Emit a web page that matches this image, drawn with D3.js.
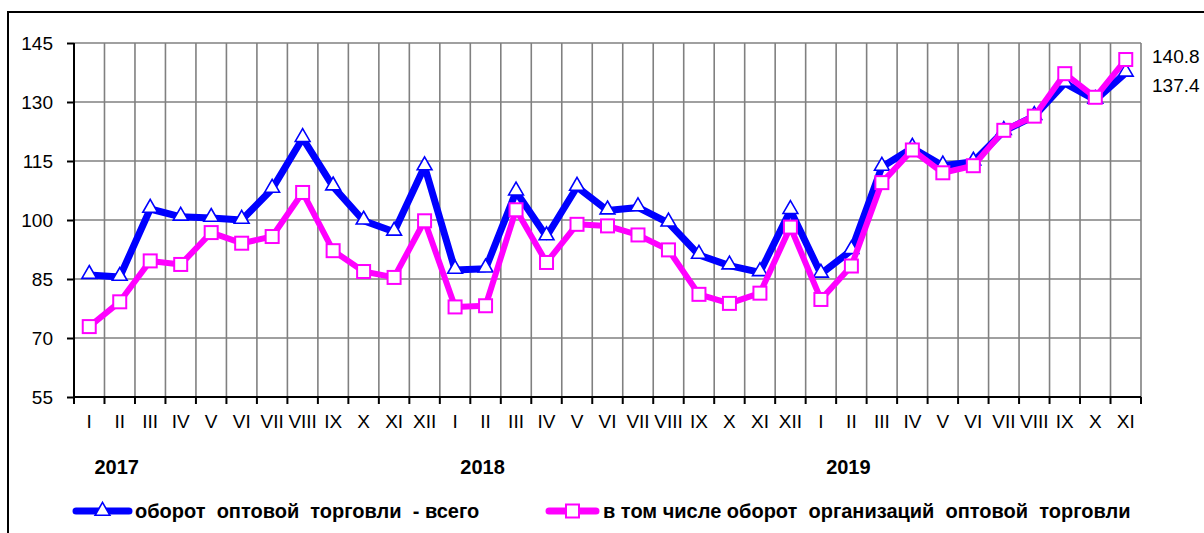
<!DOCTYPE html>
<html>
<head>
<meta charset="utf-8">
<script src="https://cdn.jsdelivr.net/npm/d3@7"></script>
<style>
  body { margin: 0; background: #fff; }
  svg { display: block; font-family: "Liberation Sans", Arial, sans-serif; }
  .grid line { stroke: #808080; stroke-width: 1.6; }
  .axis path, .axis line { stroke: #000; stroke-width: 2; }
  .axis text { font-size: 19px; fill: #000; }
</style>
</head>
<body>
<svg id="chart" width="1204" height="533"></svg>
<script>
const months = ['I','II','III','IV','V','VI','VII','VIII','IX','X','XI','XII',
  'I','II','III','IV','V','VI','VII','VIII','IX','X','XI','XII',
  'I','II','III','IV','V','VI','VII','VIII','IX','X','XI']
const years = ['2017', '2018', '2019']
const yearStart = [0, 12, 24]
const yTicks = [55, 70, 85, 100, 115, 130, 145]

// оборот оптовой торговли - всего
const totalSeries = [86, 85.5, 102.8, 100.8, 100.5, 100, 107.9, 120.8, 108.5, 99.8, 97, 113.6,
  87.3, 87.6, 107.2, 95.8, 108.4, 102.4, 103.2, 99.3, 91.1, 88.4, 86.7, 102.5,
  86.3, 92.3, 113.5, 118.3, 113.8, 114.8, 122.6, 126.4, 134.8, 130.5, 137.4]
// в том числе оборот организаций оптовой торговли
const orgSeries = [72.9, 79.2, 89.6, 88.7, 96.8, 94.1, 95.8, 107, 92.2, 86.9, 85.4, 99.8,
  77.9, 78.2, 102.6, 89.2, 98.9, 98.5, 96.2, 92.4, 81.1, 78.8, 81.4, 98.2,
  79.8, 88.3, 109.5, 117.8, 112, 113.8, 122.8, 126.4, 137.2, 131.2, 140.8]
const legendNames = ['оборот  оптовой  торговли  - всего', 'в том числе оборот  организаций  оптовой  торговли']

const $svg = d3.select('#chart')
const MARGIN = { top: 43, right: 63, bottom: 136, left: 74 }
const width = 1204, height = 533
const boundedWidth = width - MARGIN.left - MARGIN.right
const boundedHeight = height - MARGIN.top - MARGIN.bottom

const xScale = d3.scaleBand()
  .domain(d3.range(months.length))
  .range([0, boundedWidth])
  .padding(0)
const yScale = d3.scaleLinear()
  .domain([55, 145])
  .range([boundedHeight, 0])
const xc = i => xScale(i) + xScale.bandwidth() / 2

// frame
$svg.append('rect')
  .attr('x', 8).attr('y', 12)
  .attr('width', 1300).attr('height', 600)
  .attr('fill', 'none').attr('stroke', '#000').attr('stroke-width', 2)

const $gVis = $svg.append('g')
  .attr('transform', `translate(${MARGIN.left}, ${MARGIN.top})`)

// grid
const $grid = $gVis.append('g').attr('class', 'grid')
$grid.selectAll('.h').data(yTicks.slice(1))
  .join('line')
    .attr('x1', 0).attr('x2', boundedWidth)
    .attr('y1', d => yScale(d)).attr('y2', d => yScale(d))
$grid.selectAll('.v').data(d3.range(1, months.length + 1))
  .join('line')
    .attr('x1', d => d * xScale.bandwidth()).attr('x2', d => d * xScale.bandwidth())
    .attr('y1', 0).attr('y2', boundedHeight)

// axes
const yAxis = $gVis.append('g').attr('class', 'axis')
  .call(d3.axisLeft(yScale).tickValues(yTicks).tickSize(7).tickPadding(14))
yAxis.select('.domain').attr('d', `M0,${boundedHeight}V0`)

const xAxis = $gVis.append('g').attr('class', 'axis')
  .attr('transform', `translate(0, ${boundedHeight})`)
  .call(d3.axisBottom(xScale).tickFormat(i => months[i]).tickSize(0).tickPadding(18))
xAxis.select('.domain').attr('d', `M0,0H${boundedWidth}`)
xAxis.selectAll('.bnd').data(d3.range(0, months.length + 1))
  .join('line')
    .attr('class', 'bnd')
    .attr('x1', d => d * xScale.bandwidth()).attr('x2', d => d * xScale.bandwidth())
    .attr('y1', 0).attr('y2', 7)
    .attr('stroke', '#000').attr('stroke-width', 2)

// year labels
$gVis.selectAll('.year').data(years)
  .join('text')
    .attr('class', 'year')
    .attr('x', (d, i) => xc(yearStart[i] + 1) - 3)
    .attr('y', boundedHeight + 77)
    .attr('text-anchor', 'middle')
    .attr('font-size', 20).attr('font-weight', 'bold')
    .text(d => d)

const lineGen = d3.line()
  .x((d, i) => xc(i))
  .y(d => yScale(d))

const triangle = d3.symbol().type(d3.symbolTriangle).size(95)

function drawSeries(values, color, lw, marker){
  $gVis.append('path')
    .datum(values)
    .attr('d', lineGen)
    .attr('fill', 'none')
    .attr('stroke', color)
    .attr('stroke-width', lw)
    .attr('stroke-linejoin', 'round')
  const $m = $gVis.append('g')
  if (marker === 'tri') {
    $m.selectAll('path').data(values)
      .join('path')
        .attr('d', triangle)
        .attr('transform', (d, i) => `translate(${xc(i)}, ${yScale(d) - 1})`)
        .attr('fill', '#fff').attr('stroke', color).attr('stroke-width', 1.6)
  } else {
    $m.selectAll('rect').data(values)
      .join('rect')
        .attr('x', (d, i) => xc(i) - 6.5).attr('y', d => yScale(d) - 6.5)
        .attr('width', 13).attr('height', 13)
        .attr('fill', '#fff').attr('stroke', color).attr('stroke-width', 2)
  }
}

drawSeries(totalSeries, '#0000ff', 7, 'tri')
drawSeries(orgSeries, '#ff00ff', 6, 'sq')

// end value labels
const last = months.length - 1
$svg.append('text')
  .attr('x', 1152).attr('y', 63)
  .attr('font-size', 19).text(orgSeries[last].toFixed(1))
$svg.append('text')
  .attr('x', 1152).attr('y', 92)
  .attr('font-size', 19).text(totalSeries[last].toFixed(1))

// legend
const legendY = 511
const $legend = $svg.append('g')
const items = [
  { name: legendNames[0], color: '#0000ff', x1: 76, x2: 129, tx: 135, marker: 'tri' },
  { name: legendNames[1], color: '#ff00ff', x1: 549, x2: 596, tx: 603, marker: 'sq' }
]
items.forEach(it => {
  $legend.append('line')
    .attr('x1', it.x1).attr('x2', it.x2)
    .attr('y1', legendY).attr('y2', legendY)
    .attr('stroke', it.color).attr('stroke-width', 7).attr('stroke-linecap', 'round')
  const mx = (it.x1 + it.x2) / 2
  if (it.marker === 'tri') {
    $legend.append('path').attr('d', triangle)
      .attr('transform', `translate(${mx}, ${legendY})`)
      .attr('fill', '#fff').attr('stroke', it.color).attr('stroke-width', 1.6)
  } else {
    $legend.append('rect')
      .attr('x', mx - 6.5).attr('y', legendY - 6.5).attr('width', 13).attr('height', 13)
      .attr('fill', '#fff').attr('stroke', it.color).attr('stroke-width', 2)
  }
  $legend.append('text')
    .attr('x', it.tx).attr('y', legendY + 7)
    .attr('font-size', 20).attr('font-weight', 'bold')
    .attr('xml:space', 'preserve').style('white-space', 'pre')
    .text(it.name)
})
</script>
</body>
</html>
